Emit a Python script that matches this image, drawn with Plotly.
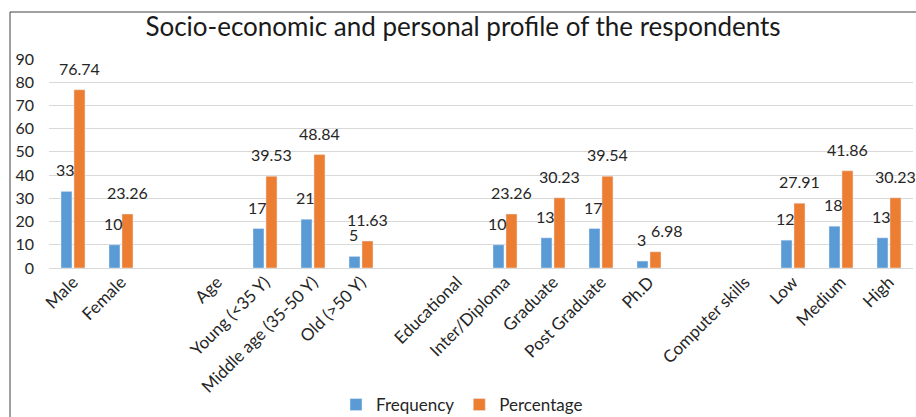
import plotly.graph_objects as go

categories = ["Male", "Female", "", "Age", "Young (<35 Y)", "Middle age (35-50 Y)", "Old (>50 Y)",
              "", "Educational", "Inter/Diploma", "Graduate", "Post Graduate", "Ph.D",
              "", "Computer skills", "Low", "Medium", "High"]
frequency = [33, 10, None, None, 17, 21, 5, None, None, 10, 13, 17, 3, None, None, 12, 18, 13]
percentage = [76.74, 23.26, None, None, 39.53, 48.84, 11.63, None, None, 23.26, 30.23, 39.54, 6.98,
              None, None, 27.91, 41.86, 30.23]
y_ticks = [0, 10, 20, 30, 40, 50, 60, 70, 80, 90]

W, H = 916, 417
L, R, T, B = 49, 3, 59, 149
pw, ph = W - L - R, H - T - B

def px_x(x):
    return (x - L) / pw

def px_y(y):
    return (H - B - y) / ph

xs = list(range(len(categories)))
FONT = "Lato"
TXT = "#262626"
cat_px = pw / len(categories)
bar_shift = cat_px * (1 - 0.46) / 4
px_per_unit = ph / 90

fig = go.Figure()
fig.add_trace(go.Bar(x=xs, y=frequency, name="Frequency", marker_color="#5B9BD5"))
fig.add_trace(go.Bar(x=xs, y=percentage, name="Percentage", marker_color="#ED7D31"))

annotations = []
for i, v in enumerate(frequency):
    if v is not None:
        annotations.append(dict(x=xs[i], y=v, text=f"{v:g}", showarrow=False, xshift=-bar_shift - 1,
                                yshift=11, yanchor="bottom", xanchor="center", borderpad=0,
                                font=dict(family=FONT, size=16, color=TXT)))
for i, v in enumerate(percentage):
    if v is not None:
        extra = 0
        f = frequency[i]
        if f is not None and (v - f) * px_per_unit < 12:
            extra = 12  # nudge right to avoid colliding with the frequency label
        annotations.append(dict(x=xs[i], y=v, text=f"{v:.2f}", showarrow=False,
                                xshift=bar_shift + extra, borderpad=0,
                                yshift=11, yanchor="bottom", xanchor="center",
                                font=dict(family=FONT, size=16, color=TXT)))

fig.update_layout(
    width=W, height=H,
    margin=dict(l=L, r=R, t=T, b=B, autoexpand=False),
    paper_bgcolor="white", plot_bgcolor="white",
    barmode="group", bargap=0.46, bargroupgap=0.15,
    font=dict(family=FONT, color=TXT),
    title=dict(text="Socio-economic and personal profile of the respondents",
               x=463 / W, xref="container", xanchor="center",
               y=1 - 27 / H, yref="container", yanchor="middle",
               font=dict(family=FONT, size=26, color="#1a1a1a")),
    legend=dict(orientation="h", x=px_x(462), y=px_y(405), xanchor="center", yanchor="middle",
                font=dict(family=FONT, size=17, color=TXT), itemwidth=30, tracegroupgap=0),
    xaxis=dict(tickmode="array", tickvals=xs, ticktext=categories, tickangle=-45,
               range=[-0.5, len(categories) - 0.5], showgrid=False, zeroline=False,
               showline=False, ticks="", automargin=False,
               tickfont=dict(family=FONT, size=17, color=TXT)),
    yaxis=dict(range=[0, 90], tickvals=y_ticks, showgrid=True, gridcolor="#d9d9d9", gridwidth=1,
               zeroline=True, zerolinecolor="#d9d9d9", zerolinewidth=1, showline=False,
               ticks="", automargin=False, tickfont=dict(family=FONT, size=16, color=TXT),
               ticklabelstandoff=14),
    annotations=annotations,
    shapes=[
        dict(type="line", xref="paper", yref="paper", x0=px_x(10), x1=px_x(10),
             y0=px_y(12), y1=px_y(417), line=dict(color="#404040", width=1)),
        dict(type="line", xref="paper", yref="paper", x0=px_x(10), x1=px_x(916),
             y0=px_y(12), y1=px_y(12), line=dict(color="#404040", width=1)),
    ],
)

fig.write_html("out.html", config={"displayModeBar": False},
               post_script="document.body.style.margin='0';document.body.style.overflow='hidden';")
